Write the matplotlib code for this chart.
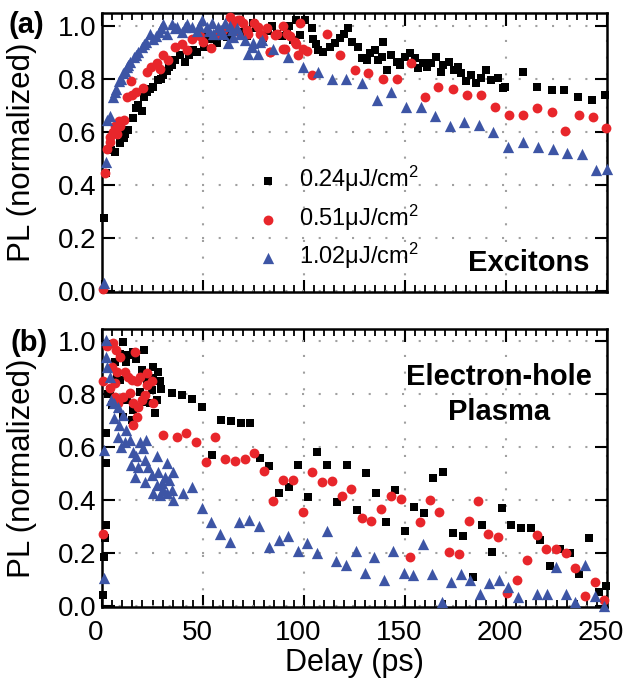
import matplotlib
matplotlib.use("Agg")
import matplotlib.pyplot as plt
import matplotlib.transforms as mtransforms
from matplotlib.ticker import MultipleLocator, FormatStrFormatter

plt.rcParams['font.family'] = ['Liberation Sans', 'DejaVu Sans']
plt.rcParams['mathtext.fontset'] = 'custom'
plt.rcParams['mathtext.rm'] = 'Liberation Sans'
plt.rcParams['mathtext.default'] = 'regular'

# ---------------- data: panel (a) Excitons ----------------
a_black_x = [0.99, 2.0, 6.4, 8.9, 10.7, 13.0, 15.5, 16.8, 19.8, 22.1, 25.4, 27.9, 30.3, 32.0, 34.5, 36.0, 41.0,
             38.6, 45.2, 50.3, 51.8, 56.8, 61.8, 65.0, 71.6, 74.9, 79.9, 86.5, 91.4, 94.7, 98.0,
             4.5, 11.5, 18, 21, 24, 29, 33, 43, 47, 53, 59, 63, 68, 76, 82, 84, 89, 96, 100.5, 92.5,
             103.8, 104.5, 106, 107, 109.6, 112.9, 115.3, 117.8, 120, 122, 123.6, 126.9, 128.5, 131, 132.7,
             135.1, 136.8, 138.4, 139.3, 140.9, 143.3, 145.9, 147.5, 150, 152.5, 155, 156.6, 159.1, 161.1,
             163, 165.2, 167.7, 169, 171.9, 174.3, 176, 177.6, 180.1, 182.6, 185.1, 187.6, 190.1, 192.6,
             195.9, 198.4, 199.6,
             208.5, 215.5, 222.6, 228.9, 235.5, 242.4, 249]
a_black_y = [0.273, 0.443, 0.525, 0.556, 0.575, 0.606, 0.650, 0.688, 0.68, 0.751, 0.770, 0.795, 0.814, 0.83, 0.852, 0.87, 0.864,
             0.89, 0.908, 0.92, 0.97, 0.934, 0.958, 0.985, 0.96, 1.01, 0.955, 0.97, 0.99, 0.945, 0.965,
             0.53, 0.59, 0.70, 0.73, 0.76, 0.80, 0.845, 0.89, 0.90, 0.95, 0.96, 0.97, 0.975, 0.99, 0.98, 1.0, 0.96, 1.02, 1.02, 1.0,
             0.99, 0.95, 0.93, 0.91, 0.902, 0.92, 0.933, 0.952, 0.97, 0.99, 0.94, 0.92, 0.877, 0.87, 0.896,
             0.908, 0.87, 0.883, 0.94, 0.833, 0.889, 0.864, 0.852, 0.883, 0.896, 0.877, 0.84, 0.858, 0.845,
             0.86, 0.883, 0.826, 0.85, 0.864, 0.833, 0.845, 0.82, 0.79, 0.814, 0.782, 0.801, 0.833, 0.795,
             0.801, 0.764, 0.77,
             0.826, 0.767, 0.757, 0.757, 0.730, 0.720, 0.738]

a_red_x = [0.3, 1.5, 2.6, 3.8, 5.4, 7.3, 9, 11, 12.2, 14.7, 17, 14.6, 20.2, 22.1, 24.5, 27, 28.5, 30.3, 32.8,
           36.1, 39.4, 42, 44.4, 48.5, 50, 54, 56.8, 60, 63.4, 65, 68.3, 71.6, 75, 78, 81.5, 83, 86.5, 89.8,
           93, 96, 98, 99.7,
           65.8, 72.4, 79.8, 85.6, 89.8, 91.4, 95.6, 97.2, 90.6, 83.2, 67.5, 69.9, 77.4, 4.2, 6.2, 8.2,
           101.3, 103.8, 111.2, 117.8, 125.2, 131.8, 138.9, 145.9, 152.8, 159.9, 166.5, 173.6, 180.5, 187.6,
           194.5, 201.5, 208.3, 215.5, 222.6, 229.2, 236, 243, 249.5]
a_red_y = [0.005, 0.445, 0.534, 0.58, 0.60, 0.59, 0.62, 0.644, 0.732, 0.74, 0.75, 0.79, 0.765, 0.826, 0.845, 0.86, 0.835, 0.889, 0.87,
           0.92, 0.93, 0.91, 0.948, 0.96, 0.94, 0.917, 0.97, 0.984, 1.034, 1.01, 1.02, 0.985, 1.01, 0.97, 0.99, 0.9, 0.97, 0.914,
           0.96, 0.93, 1.01, 0.914,
           0.98, 0.97, 0.958, 0.965, 1.0, 0.97, 0.94, 0.89, 0.914, 0.90, 1.02, 1.01, 0.996, 0.56, 0.62, 0.64,
           0.906, 0.814, 0.97, 0.889, 0.833, 0.82, 0.80, 0.80, 0.858, 0.732, 0.768, 0.76, 0.738, 0.74,
           0.692, 0.663, 0.663, 0.688, 0.673, 0.603, 0.662, 0.655, 0.615]

a_blue_x = [1, 2, 2.6, 4, 5.6, 7, 8.6, 10.6, 12.2, 14, 15.8, 18, 19.6, 22, 23.8, 25.4, 28, 30.3, 32, 34.5,
            37, 39.4, 42, 44.4, 46.9, 49.3, 51.8, 55.1, 57.6, 60, 63.4, 65, 68.3, 70.8, 72.4, 74.9, 77.3,
            78, 84.9, 92.3, 99.4,
            54.3, 60.9, 64.2, 62.5, 74.1, 79, 6.3, 9.5, 11.5, 13, 16.8, 21, 26.5, 29, 36, 41, 47.8, 53,
            58.8, 66.8,
            107, 114, 121, 128.5, 136, 143, 150.3, 157.7, 164.8, 172.3, 179.3, 186.5, 193.7, 201.1, 208.5,
            215.8, 223.3, 230.3, 237.7, 244.8, 250]
a_blue_y = [0.03, 0.487, 0.644, 0.66, 0.732, 0.763, 0.79, 0.82, 0.845, 0.864, 0.883, 0.90, 0.92, 0.94, 0.97, 0.95, 0.976, 1.006, 0.97, 1.006,
            0.994, 0.976, 1.006, 0.994, 0.98, 1.02, 0.994, 0.97, 0.994, 0.97, 1.0, 0.958, 0.97, 0.945, 0.895, 0.933, 0.895,
            0.94, 0.914, 0.883, 0.845,
            1.01, 1.01, 0.984, 0.933, 0.92, 0.946, 0.75, 0.80, 0.83, 0.85, 0.89, 0.93, 0.96, 0.99, 0.99, 0.995, 1.0, 0.98,
            0.985, 0.99,
            0.826, 0.80, 0.80, 0.785, 0.72, 0.75, 0.692, 0.692, 0.66, 0.621, 0.638, 0.625, 0.598, 0.543, 0.562,
            0.543, 0.536, 0.52, 0.515, 0.455, 0.46]

# ---------------- data: panel (b) Electron-hole plasma ----------------
b_black_x = [0.66, 1, 1.5, 2, 2, 2,
             10.6, 15.5, 20.8, 25.4, 27.9, 28.7, 27.1, 26.3, 23.8, 18.8, 15.5, 14.7, 12.2, 8.9, 6.4, 4,
             13, 22.1, 24.6, 19.6, 10.6, 7.3, 3, 5, 9, 12, 17, 21, 25, 29,
             34.5, 39.4, 44.4, 49.3, 54.3, 58.8, 63.7, 68.6, 73.3, 78.2, 82.8, 87.8, 92.8, 97.2, 102.1,
             106.6, 111.5, 116.5, 121.3, 126, 130.7, 135.6, 140.4, 145, 150, 154.6, 159.6, 164, 169,
             173.9, 178.7, 183.5, 188.2, 193, 197.8, 202.5, 207.3, 212.3, 217, 222, 226.7, 231.6,
             236.3, 241.2, 246, 249.4]
b_black_y = [0.042, 0.186, 0.255, 0.306, 0.538, 0.654,
             0.997, 0.96, 0.966, 0.903, 0.884, 0.847, 0.777, 0.727, 0.765, 0.809, 0.74, 0.702, 0.777, 0.853, 0.922, 0.815,
             0.947, 0.853, 0.815, 0.89, 0.714, 0.865, 0.80, 0.76, 0.95, 0.92, 0.93, 0.77, 0.86, 0.82,
             0.805, 0.796, 0.781, 0.752, 0.570, 0.702, 0.699, 0.692, 0.692, 0.557, 0.528, 0.428, 0.45, 0.532, 0.41,
             0.579, 0.532, 0.391, 0.53, 0.362, 0.50, 0.425, 0.318, 0.438, 0.283, 0.375, 0.352, 0.482, 0.507,
             0.274, 0.265, 0.108, 0.306, 0.203, 0.369, 0.305, 0.294, 0.294, 0.249, 0.151, 0.214, 0.198,
             0.121, 0.255, 0.054, 0.075]

b_red_x = [0.5, 0.5,
           2.3, 5.6, 6.9, 4.8, 7.3, 8.9, 11.4, 13, 14.7, 16.3, 17.2, 18.8, 22.1, 24.6, 22.1, 4, 6.4, 10.6,
           13.9, 15.5, 18, 19.6, 17.2, 15.5, 21.3, 25.4, 8.1, 6.4,
           30.3, 36.9, 41.6, 46.5, 51.5, 55.9, 60.9, 65.8, 70.8, 75.4, 80.2, 84.8, 89.8, 94.7, 99.4, 104.2,
           109, 113.8, 118.8, 123.4, 128.5, 133.3, 138.1, 142.9, 147.8, 152.5, 157.4, 162.3, 166.9, 171.8,
           176.7, 181.5, 186.3, 191.1, 195.9, 200.6, 205.6, 210.4, 215.1, 220, 224.7, 229.5, 234.3, 239,
           243.9, 248.5]
b_red_y = [0.27, 0.85,
           0.979, 0.991, 0.966, 0.903, 0.884, 0.941, 0.884, 0.865, 0.853, 0.960, 0.847, 0.865, 0.878, 0.847, 0.834, 0.821, 0.79, 0.79,
           0.803, 0.765, 0.752, 0.777, 0.714, 0.683, 0.796, 0.765, 0.765, 0.84,
           0.645, 0.639, 0.654, 0.62, 0.545, 0.639, 0.553, 0.548, 0.555, 0.576, 0.511, 0.396, 0.475, 0.475, 0.356, 0.504,
           0.469, 0.47, 0.413, 0.44, 0.331, 0.32, 0.365, 0.413, 0.404, 0.184, 0.318, 0.40, 0.356, 0.205,
           0.196, 0.322, 0.396, 0.27, 0.259, 0.048, 0.096, 0.175, 0.267, 0.213, 0.213, 0.20, 0.143, 0.039,
           0.092, 0.023]

b_blue_x = [1, 1,
            2, 2, 2.6, 3.8, 4.5, 6, 7.8, 6, 8.6, 10.2, 11.8, 8, 9.6, 11.3, 13.7, 15.4, 17, 18.6, 20.2, 22,
            14.6, 18, 21.3, 23, 24.6, 27, 27.9, 29.5, 32, 33, 34.7, 30, 27, 21.3, 16.4, 25.4, 28.7, 32,
            35.2, 35, 31,
            39.9, 44.4, 49.3, 53.8, 58.4, 63.4, 68, 73, 77.9, 82.5, 87.4, 92.2, 96.8, 101.6, 106.3,
            111.2, 115.9, 120.9, 125.5, 130.3, 134.9, 139.7, 144.3, 149.3, 153.9, 158.7, 163.3, 168.2,
            172.8, 177.6, 182.3, 187.2, 191.8, 196.6, 201.2, 206, 215.2, 220.2, 224.8, 229.6, 234.4,
            239.1, 243.9, 248.5]
b_blue_y = [0.104, 0.589,
            1.004, 0.941, 0.903, 0.865, 0.777, 0.765, 0.752, 0.708, 0.683, 0.721, 0.664, 0.639, 0.601, 0.62, 0.626, 0.582, 0.564, 0.62, 0.595, 0.626,
            0.532, 0.526, 0.551, 0.526, 0.494, 0.564, 0.507, 0.463, 0.538, 0.475, 0.438, 0.438, 0.457, 0.469, 0.488, 0.425, 0.419, 0.425,
            0.40, 0.507, 0.488,
            0.428, 0.45, 0.369, 0.318, 0.27, 0.24, 0.318, 0.325, 0.302, 0.224, 0.247, 0.265, 0.209, 0.236, 0.199,
            0.284, 0.17, 0.155, 0.209, 0.126, 0.184, 0.098, 0.209, 0.126, 0.117, 0.234, 0.121, 0.016,
            0.092, 0.121, 0.096, 0.045, 0.086, 0.096, 0.07, 0.035, 0.045, 0.045, 0.148, 0.045, 0.014,
            0.155, 0.039, 0.001]

labels = ['0.24μJ/cm$^2$', '0.51μJ/cm$^2$', '1.02μJ/cm$^2$']
colors = ['#000000', '#E8262B', '#3D55A5']
markers = ['s', 'o', '^']
sizes = [40, 50, 66]
x_ticks = [0, 50, 100, 150, 200, 250]
y_ticks = [0.0, 0.2, 0.4, 0.6, 0.8, 1.0]

fig = plt.figure(figsize=(6.26, 6.84), dpi=100)
ax_a = fig.add_axes([102/626, 1-292/684, 505/626, 279/684])
ax_b = fig.add_axes([102/626, 1-607/684, 505/626, 278/684])

series_a = [(a_black_x, a_black_y), (a_red_x, a_red_y), (a_blue_x, a_blue_y)]
series_b = [(b_black_x, b_black_y), (b_red_x, b_red_y), (b_blue_x, b_blue_y)]

for ax, series in ((ax_a, series_a), (ax_b, series_b)):
    for (xs, ys), c, m, s, lab in zip(series, colors, markers, sizes, labels):
        ax.scatter(xs, ys, s=s, c=c, marker=m, linewidths=0, label=lab, zorder=3, clip_on=False)
    ax.set_xlim(0, 250)
    ax.set_xticks(x_ticks)
    ax.set_yticks(y_ticks)
    ax.yaxis.set_major_formatter(FormatStrFormatter('%.1f'))
    ax.xaxis.set_minor_locator(MultipleLocator(5))
    ax.tick_params(which='major', direction='in', top=True, right=True, length=9, width=1.5,
                   labelsize=20, pad=4)
    ax.tick_params(axis='x', which='major', pad=9)
    ax.tick_params(which='minor', direction='in', top=True, bottom=True, length=5, width=1.3)
    ax.tick_params(axis='y', which='minor', left=False, right=False)
    ax.grid(True, which='major', linestyle=(0, (1, 7)), color='#a0a0a0', linewidth=1.5)
    ax.set_axisbelow(True)
    for sp in ax.spines.values():
        sp.set_linewidth(1.8)
    ax.set_ylabel('PL (normalized)', fontsize=22.5)
    ax.yaxis.set_label_coords(-0.128, 0.5)

ax_a.set_ylim(-0.005, 1.048)
ax_b.set_ylim(-0.004, 1.045)
ax_a.tick_params(labelbottom=False)
ax_b.set_xlabel('Delay (ps)', fontsize=22, labelpad=2)

# shift x tick labels slightly left as in the reference
shift = mtransforms.ScaledTranslation(-6/100, 0, fig.dpi_scale_trans)
for lbl in ax_b.get_xticklabels():
    lbl.set_transform(lbl.get_transform() + shift)

leg = ax_a.legend(loc='upper left', bbox_to_anchor=(0.305, 0.458), frameon=False, fontsize=17,
                  handletextpad=0.8, labelspacing=0.35, borderpad=0, handlelength=1.0,
                  borderaxespad=0, scatterpoints=1)

ax_a.text(0.966, 0.076, 'Excitons', transform=ax_a.transAxes, ha='right', va='baseline',
          fontsize=21, fontweight='bold')
ax_b.text(0.786, 0.765, 'Electron-hole\nPlasma', transform=ax_b.transAxes, ha='center', va='center',
          fontsize=21, fontweight='bold', linespacing=1.3)

fig.text(9/626, 1-25/684, '(a)', fontsize=21, fontweight='bold', va='center', ha='left')
fig.text(11/626, 1-343/684, '(b)', fontsize=21, fontweight='bold', va='center', ha='left')

fig.savefig('out.png', dpi=100)
